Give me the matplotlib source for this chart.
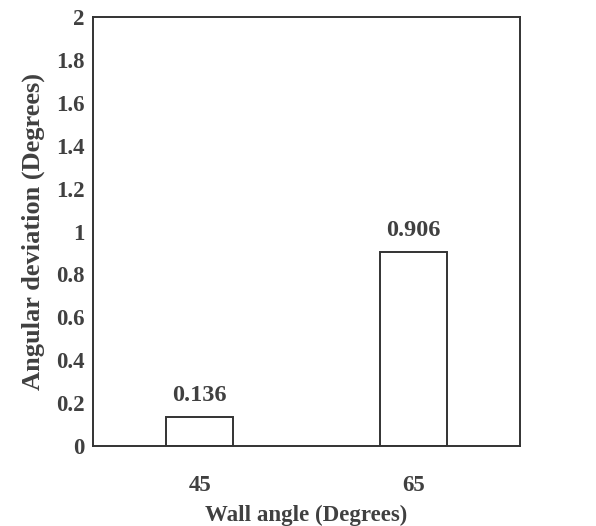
import matplotlib.pyplot as plt
import numpy as np

# Angular deviation per wall angle
wall_angles = ["45", "65"]
deviation = [0.136, 0.906]
y_ticks = [0, 0.2, 0.4, 0.6, 0.8, 1, 1.2, 1.4, 1.6, 1.8, 2]
y_tick_labels = ["0", "0.2", "0.4", "0.6", "0.8", "1", "1.2", "1.4", "1.6", "1.8", "2"]

TEXT_COLOR = "#404040"
EDGE_COLOR = "#333333"

plt.rcParams["font.family"] = ["Liberation Serif", "DejaVu Serif"]
plt.rcParams["font.weight"] = "bold"

fig = plt.figure(figsize=(5.96, 5.26), dpi=100)
ax = fig.add_axes([93 / 596, 1 - 446 / 526, 427 / 596, 429 / 526])

x = np.arange(len(wall_angles))
ax.bar(x, deviation, width=0.313, color="white", edgecolor=EDGE_COLOR, linewidth=1.4)

for xi, v in zip(x, deviation):
    ax.annotate(f"{v:.3f}", (xi, v), xytext=(0, 7.5), textcoords="offset points",
                ha="center", va="bottom", fontsize=17.5, fontweight="bold", color=TEXT_COLOR)

ax.set_xlim(-0.5, 1.5)
ax.set_ylim(0, 2)
ax.set_xticks(x)
ax.set_xticklabels(wall_angles)
ax.set_yticks(y_ticks)
ax.set_yticklabels(y_tick_labels)
ax.tick_params(length=0, labelsize=16.5, labelcolor=TEXT_COLOR)
ax.tick_params(axis="x", pad=21)
ax.tick_params(axis="y", pad=6)

for s in ax.spines.values():
    s.set_color(EDGE_COLOR)
    s.set_linewidth(1.4)

ax.set_xlabel("Wall angle (Degrees)", fontsize=16.5, fontweight="bold", color=TEXT_COLOR, labelpad=6)
ax.set_ylabel("Angular deviation (Degrees)", fontsize=19, fontweight="bold", color=TEXT_COLOR, labelpad=8)

fig.savefig("out.png", dpi=100)
